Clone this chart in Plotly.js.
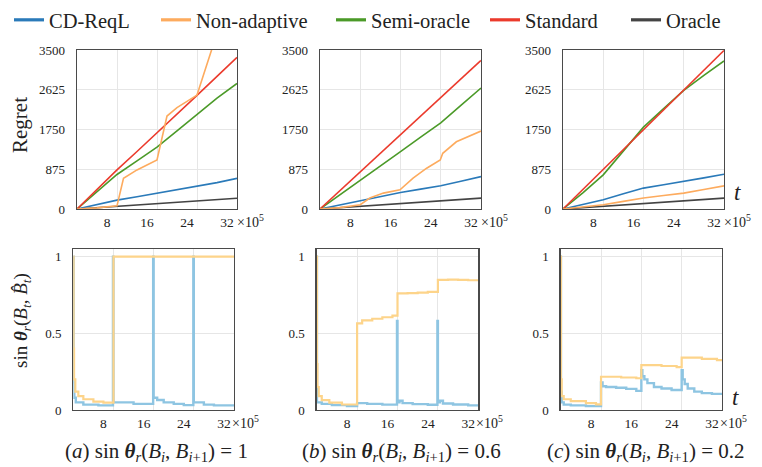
<!DOCTYPE html>
<html><head><meta charset="utf-8">
<script src="https://cdn.plot.ly/plotly-3.0.1.min.js"></script>
<style>
html,body{margin:0;padding:0;background:#fff}
#chart{width:762px;height:467px}
</style>
</head><body>
<div id="chart"></div>
<script>
// ---------- data ----------
const seriesNames = ['CD-ReqL', 'Non-adaptive', 'Semi-oracle', 'Standard', 'Oracle'];
const xTickVals = [8, 16, 24, 32];
const xTickLabels = ['8', '16', '24', '32'];
const regretTickVals = [0, 875, 1750, 2625, 3500];
const regretTickLabels = ['0', '875', '1750', '2625', '3500'];
const sinTickVals = [0, 0.5, 1];
const sinTickLabels = ['0', '0.5', '1'];

// Regret (top row), t in units of 10^5
const tRegret = [0, 4, 8, 12, 16, 20, 24, 28, 32];
const cdReqlA = [0, 100, 195, 270, 345, 420, 490, 580, 675];
const semiA   = [0, 390, 760, 1060, 1360, 1720, 2090, 2440, 2765];
const stdA    = [0, 430, 860, 1265, 1670, 2085, 2500, 2920, 3337];
const oracleA = [0, 30, 59, 88, 118, 147, 176, 206, 235];
const tNonA   = [0, 4, 8, 9.3, 12, 16, 18, 20, 24, 27.5];
const nonA    = [0, 25, 70, 676, 860, 1078, 2046, 2230, 2508, 3700];

const cdReqlB = [0, 95, 188, 275, 364, 437, 510, 610, 714];
const semiB   = [0, 320, 642, 950, 1262, 1580, 1897, 2280, 2663];
const stdB    = [0, 409, 818, 1226, 1635, 2044, 2453, 2861, 3270];
const oracleB = [0, 30, 60, 90, 120, 150, 180, 210, 240];
const tNonB   = [0, 4, 8, 9.9, 12.6, 15.9, 18.5, 21.2, 23.9, 24.4, 27.1, 29.8, 32];
const nonB    = [0, 30, 94, 241, 350, 422, 678, 898, 1080, 1226, 1480, 1605, 1715];

const cdReqlC = [0, 105, 204, 335, 460, 535, 605, 685, 765];
const nonC    = [0, 47, 94, 168, 241, 296, 350, 430, 510];
const semiC   = [0, 360, 751, 1270, 1802, 2210, 2613, 2940, 3258];
const stdC    = [0, 436, 872, 1309, 1745, 2181, 2617, 3054, 3490];
const oracleC = [0, 30, 60, 90, 120, 150, 180, 210, 240];

// sin theta (bottom row)
const tSinCdA  = [0, 0.05, 0.2, 0.5, 2, 5, 7.9, 8, 12, 15.9, 16, 16.7, 18, 20, 22, 23.9, 24, 26, 28, 32];
const sinCdA   = [1, 0.18, 0.08, 0.05, 0.035, 0.03, 1, 0.05, 0.04, 1, 0.08, 0.065, 0.05, 0.04, 0.032, 1, 0.05, 0.035, 0.03, 0.025];
const tSinNonA = [0, 0.05, 0.15, 0.4, 1, 2, 4, 6, 8, 32];
const sinNonA  = [1, 0.4, 0.2, 0.12, 0.09, 0.07, 0.055, 0.048, 1, 1];

const tSinCdB  = [0, 0.05, 1, 3, 6, 8, 10, 13, 15.9, 16, 16.4, 17, 19, 22, 23.9, 24, 24.4, 25, 27, 30, 32];
const sinCdB   = [1, 0.05, 0.04, 0.032, 0.026, 0.045, 0.04, 0.035, 0.58, 0.05, 0.06, 0.045, 0.038, 0.034, 0.58, 0.05, 0.06, 0.042, 0.036, 0.03, 0.03];
const tSinNonB = [0, 0.05, 0.15, 0.4, 1, 2.5, 5, 8, 9, 11, 13, 15, 16, 18, 20, 22, 24, 26, 28, 30, 32];
const sinNonB  = [1, 0.3, 0.15, 0.09, 0.065, 0.048, 0.036, 0.565, 0.585, 0.595, 0.605, 0.615, 0.76, 0.762, 0.765, 0.77, 0.848, 0.85, 0.848, 0.846, 0.845];

const tSinCdC  = [0, 0.05, 0.2, 0.6, 2, 5, 8, 8.3, 9, 11, 13, 15, 16, 16.2, 16.6, 17.2, 18.5, 20, 22, 24, 24.2, 24.6, 25.2, 26.5, 28, 30, 32];
const sinCdC   = [1, 0.12, 0.05, 0.035, 0.03, 0.025, 0.18, 0.155, 0.15, 0.145, 0.138, 0.125, 0.26, 0.22, 0.2, 0.175, 0.15, 0.14, 0.13, 0.26, 0.2, 0.17, 0.14, 0.12, 0.11, 0.105, 0.1];
const tSinNonC = [0, 0.05, 0.2, 0.6, 2, 5, 7, 8, 12, 15, 16, 20, 23, 24, 28, 31, 32];
const sinNonC  = [1, 0.2, 0.09, 0.07, 0.058, 0.045, 0.037, 0.217, 0.212, 0.207, 0.293, 0.287, 0.28, 0.341, 0.333, 0.325, 0.32];

// ---------- style ----------
const W = 762, H = 467;
const FONT = "'Liberation Serif'";
const TXT = '#222';
const colors = ['#2a7ab9', '#fdab5e', '#4b9a28', '#eb3a2c', '#444444'];
const lightBlue = '#8ec5e2', lightOrange = '#fdd48a';
const fx = p => p / W, fy = p => 1 - p / H;

const topX = [[77, 237], [320, 481], [563, 724]];
const topY = [50, 209];
const botX = [[73.3, 234], [316.7, 478.3], [560.7, 722]];
const botY = [249.3, 410];

function xAxis(dom, anchor) {
  return {domain: [fx(dom[0]), fx(dom[1])], anchor: anchor, range: [0, 32],
    tickmode: 'array', tickvals: xTickVals, ticktext: xTickLabels, ticklabelshift: -10,
    ticks: '', showgrid: true, gridcolor: '#e6e6e6', gridwidth: 1, zeroline: false,
    showline: true, mirror: true, linecolor: '#4a4a4a', linewidth: 1.3,
    tickfont: {family: FONT, size: 13.5, color: TXT}, fixedrange: true};
}
function yAxis(dom, anchor, range, vals, labels) {
  return {domain: [fy(dom[1]), fy(dom[0])], anchor: anchor, range: range,
    tickmode: 'array', tickvals: vals, ticktext: labels, ticklabelstandoff: 8,
    ticks: '', showgrid: true, gridcolor: '#e6e6e6', gridwidth: 1, zeroline: false,
    showline: true, mirror: true, linecolor: '#4a4a4a', linewidth: 1.3,
    tickfont: {family: FONT, size: 13, color: TXT}, fixedrange: true};
}

const traces = [];
function line(x, y, xa, ya, color, width, shape) {
  traces.push({type: 'scatter', mode: 'lines', x: x, y: y, xaxis: xa, yaxis: ya,
    line: {color: color, width: width, shape: shape || 'linear'}, showlegend: false, hoverinfo: 'skip'});
}
// top row
const topSets = [
  [cdReqlA, [tNonA, nonA], semiA, stdA, oracleA],
  [cdReqlB, [tNonB, nonB], semiB, stdB, oracleB],
  [cdReqlC, [tRegret, nonC], semiC, stdC, oracleC]
];
topSets.forEach((s, i) => {
  const xa = 'x' + (i === 0 ? '' : i + 1), ya = 'y' + (i === 0 ? '' : i + 1);
  line(tRegret, s[4], xa, ya, colors[4], 1.6);
  line(tRegret, s[0], xa, ya, colors[0], 1.6);
  line(tRegret, s[2], xa, ya, colors[2], 1.6);
  line(tRegret, s[3], xa, ya, colors[3], 1.6);
  line(s[1][0], s[1][1], xa, ya, colors[1], 1.6);
});
// bottom row
const botSets = [
  [[tSinCdA, sinCdA], [tSinNonA, sinNonA]],
  [[tSinCdB, sinCdB], [tSinNonB, sinNonB]],
  [[tSinCdC, sinCdC], [tSinNonC, sinNonC]]
];
botSets.forEach((s, i) => {
  const xa = 'x' + (i + 4), ya = 'y' + (i + 4);
  line(s[0][0], s[0][1], xa, ya, lightBlue, 2.4, 'hv');
  line(s[1][0], s[1][1], xa, ya, lightOrange, 2.2, 'hv');
});
// legend entries (one legend per series, placed along the top)
const legendLineX = [11, 158, 333, 487, 628];
seriesNames.forEach((n, i) => {
  traces.push({type: 'scatter', mode: 'lines', x: [null], y: [null], name: n,
    line: {color: colors[i], width: 3.2}, showlegend: true,
    legend: i === 0 ? 'legend' : 'legend' + (i + 1)});
});

const layout = {
  width: W, height: H, margin: {l: 0, r: 0, t: 0, b: 0},
  paper_bgcolor: '#fff', plot_bgcolor: '#fff',
  font: {family: FONT, color: TXT},
  xaxis: xAxis(topX[0], 'y'), yaxis: yAxis(topY, 'x', [0, 3500], regretTickVals, regretTickLabels),
  xaxis2: xAxis(topX[1], 'y2'), yaxis2: yAxis(topY, 'x2', [0, 3500], regretTickVals, regretTickLabels),
  xaxis3: xAxis(topX[2], 'y3'), yaxis3: yAxis(topY, 'x3', [0, 3500], regretTickVals, regretTickLabels),
  xaxis4: xAxis(botX[0], 'y4'), yaxis4: yAxis(botY, 'x4', [0, 1.048], sinTickVals, sinTickLabels),
  xaxis5: xAxis(botX[1], 'y5'), yaxis5: yAxis(botY, 'x5', [0, 1.048], sinTickVals, sinTickLabels),
  xaxis6: xAxis(botX[2], 'y6'), yaxis6: yAxis(botY, 'x6', [0, 1.048], sinTickVals, sinTickLabels),
  annotations: [],
  showlegend: true
};
legendLineX.forEach((px, i) => {
  layout[i === 0 ? 'legend' : 'legend' + (i + 1)] = {
    x: fx(px - 2), y: 1, xanchor: 'left', yanchor: 'top', orientation: 'h',
    bgcolor: 'rgba(0,0,0,0)', borderwidth: 0, font: {family: FONT, size: 20.5, color: TXT}
  };
});
const ann = layout.annotations;
function note(o) {
  ann.push(Object.assign({showarrow: false, xanchor: 'center', yanchor: 'middle', xref: 'paper', yref: 'paper'}, o));
}
// x10^5 labels
['x', 'x2', 'x3', 'x4', 'x5', 'x6'].forEach((xr, i) => {
  note({xref: xr, x: 32, y: i < 3 ? fy(220.5) : fy(422), xanchor: 'left',
    xshift: i < 3 ? -2 : -4, text: '×10<sup>5</sup>', font: {family: FONT, size: 14, color: TXT}});
});
// t labels
note({x: fx(737), y: fy(192), text: '<i>t</i>', font: {family: FONT, size: 23, color: TXT}});
note({x: fx(735), y: fy(397), text: '<i>t</i>', font: {family: FONT, size: 23, color: TXT}});
// y titles
note({x: fx(20), y: fy(125), textangle: -90, text: 'Regret', font: {family: FONT, size: 21, color: TXT}});
note({x: fx(22), y: fy(321), textangle: -90,
  text: 'sin <b><i>θ</i></b><sub><i>r</i></sub>(<i>B</i><sub><i>t</i></sub>, <i>B̂</i><sub><i>t</i></sub>)', font: {family: FONT, size: 19, color: TXT}});
// captions
const captionLetters = ['a', 'b', 'c'];
const captionValues = ['1', '0.6', '0.2'];
const captionCenters = [156, 401, 646];
captionLetters.forEach((c, i) => {
  note({x: fx(captionCenters[i]), y: fy(452),
    text: '(<i>' + c + '</i>) sin <b><i>θ</i></b><sub><i>r</i></sub>(<i>B</i><sub><i>i</i></sub>, <i>B</i><sub><i>i</i>+1</sub>) = ' + captionValues[i],
    font: {family: FONT, size: 21, color: TXT}});
});

Plotly.newPlot('chart', traces, layout, {staticPlot: true, displayModeBar: false});
</script>
</body></html>
